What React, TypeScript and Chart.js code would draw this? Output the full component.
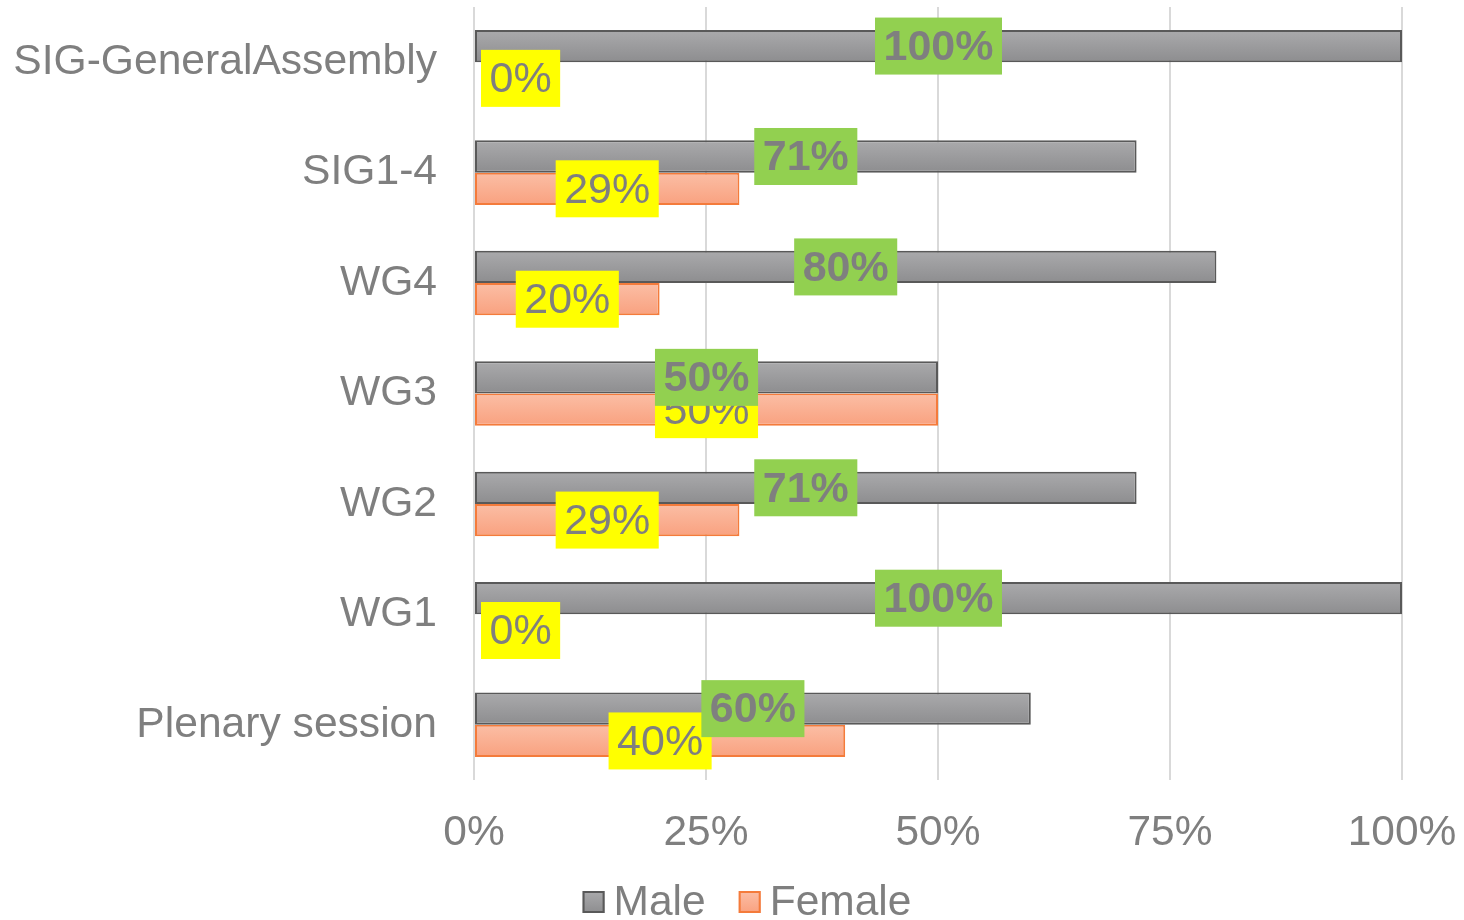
import React, { useEffect, useRef } from "react";
import { Chart, registerables } from "chart.js";

Chart.register(...registerables);

const categories = ["SIG-GeneralAssembly", "SIG1-4", "WG4", "WG3", "WG2", "WG1", "Plenary session"];
const maleValues = [100, 71.4, 80, 50, 71.4, 100, 60];
const femaleValues = [0, 28.6, 20, 50, 28.6, 0, 40];
const xTicks = [0, 25, 50, 75, 100];
const seriesNames = ["Male", "Female"];

const FONT = "'Liberation Sans', Arial, sans-serif";
const GRAY_TEXT = "#7f7f7f";

const gradientPlugin = {
  id: "barGradient",
  beforeDatasetsDraw(chart: any) {
    const ctx = chart.ctx;
    const stops = [
      ["#aaaaac", "#8d8d8f"],
      ["#fbbea5", "#f9a17f"],
    ];
    chart.data.datasets.forEach((ds: any, di: number) => {
      const meta = chart.getDatasetMeta(di);
      meta.data.forEach((el: any) => {
        const { y, height } = el.getProps(["y", "height"], true);
        const top = y - height / 2;
        const g = ctx.createLinearGradient(0, top, 0, top + height);
        g.addColorStop(0, stops[di][0]);
        g.addColorStop(1, stops[di][1]);
        el.options = Object.assign({}, el.options, { backgroundColor: g });
      });
    });
  },
};

const labelPlugin = {
  id: "boxLabels",
  afterDatasetsDraw(chart: any) {
    const ctx = chart.ctx;
    const area = chart.chartArea;
    const order = [1, 0];
    order.forEach((di) => {
      const meta = chart.getDatasetMeta(di);
      const values = di === 0 ? maleValues : femaleValues;
      meta.data.forEach((el: any, i: number) => {
        const { x, y, base } = el.getProps(["x", "y", "base"], true);
        const text = Math.round(values[i]) + "%";
        ctx.save();
        ctx.font = (di === 0 ? "bold " : "") + "43px " + FONT;
        const tw = ctx.measureText(text).width;
        const bw = tw + 17;
        const bh = 57;
        const cx = (x + base) / 2;
        let left = cx - bw / 2;
        if (left < area.left + 7) left = area.left + 7;
        ctx.fillStyle = di === 0 ? "#92d050" : "#ffff00";
        ctx.fillRect(left, y - bh / 2, bw, bh);
        ctx.fillStyle = GRAY_TEXT;
        ctx.textAlign = "center";
        ctx.textBaseline = "middle";
        ctx.fillText(text, left + bw / 2, y + 2);
        ctx.restore();
      });
    });
  },
};

const legendPlugin = {
  id: "customLegend",
  afterDraw(chart: any) {
    const ctx = chart.ctx;
    ctx.save();
    ctx.font = "42.5px " + FONT;
    const box = 22;
    const gap = 9;
    const itemGap = 33;
    const widths = seriesNames.map((n) => box + gap + ctx.measureText(n).width);
    const total = widths.reduce((a, b) => a + b, 0) + itemGap * (seriesNames.length - 1);
    let xPos = chart.width / 2 + 15 - total / 2;
    const yc = 902;
    const fills = [
      ["#aaaaac", "#8d8d8f", "#595959"],
      ["#fbbea5", "#f9a17f", "#f47b3b"],
    ];
    seriesNames.forEach((n, i) => {
      const g = ctx.createLinearGradient(0, yc - box / 2, 0, yc + box / 2);
      g.addColorStop(0, fills[i][0]);
      g.addColorStop(1, fills[i][1]);
      ctx.fillStyle = g;
      ctx.fillRect(xPos, yc - box / 2, box, box);
      ctx.strokeStyle = fills[i][2];
      ctx.lineWidth = 2;
      ctx.strokeRect(xPos + 1, yc - box / 2 + 1, box - 2, box - 2);
      ctx.fillStyle = GRAY_TEXT;
      ctx.textAlign = "left";
      ctx.textBaseline = "middle";
      ctx.fillText(n, xPos + box + gap, yc + 1);
      xPos += widths[i] + itemGap;
    });
    ctx.restore();
  },
};

export default function App() {
  const ref = useRef<HTMLCanvasElement | null>(null);
  useEffect(() => {
    if (!ref.current) return;
    const chart = new Chart(ref.current, {
      type: "bar",
      data: {
        labels: categories,
        datasets: [
          {
            label: seriesNames[0],
            data: maleValues,
            backgroundColor: "#9b9b9d",
            borderColor: "#595959",
            borderWidth: 2,
            borderSkipped: false,
            categoryPercentage: 0.585,
            barPercentage: 1,
          },
          {
            label: seriesNames[1],
            data: femaleValues,
            backgroundColor: "#faae90",
            borderColor: "#f47b3b",
            borderWidth: 2,
            borderSkipped: false,
            categoryPercentage: 0.585,
            barPercentage: 1,
          },
        ],
      },
      options: {
        indexAxis: "y",
        responsive: false,
        animation: false,
        layout: { padding: { top: 7, right: 62, bottom: 63, left: 0 } },
        plugins: {
          legend: { display: false },
          tooltip: { enabled: false },
        },
        scales: {
          x: {
            min: 0,
            max: 100,
            afterBuildTicks: (scale: any) => {
              scale.ticks = xTicks.map((v) => ({ value: v }));
            },
            afterFit: (scale: any) => {
              scale.paddingLeft = 0;
              scale.paddingRight = 0;
              scale.height = 77;
            },
            ticks: {
              callback: (v: any) => v + "%",
              font: { family: FONT, size: 42.5 },
              color: GRAY_TEXT,
              padding: 28,
            },
            grid: { color: "#d9d9d9", lineWidth: 2, drawTicks: false },
            border: { display: false },
          },
          y: {
            afterFit: (scale: any) => {
              scale.width = 474;
              scale.paddingTop = 0;
              scale.paddingBottom = 0;
            },
            ticks: {
              font: { family: FONT, size: 42.6 },
              color: GRAY_TEXT,
              padding: 37,
            },
            grid: { display: false, drawTicks: false },
            border: { display: false },
          },
        },
      },
      plugins: [gradientPlugin, labelPlugin, legendPlugin],
    });
    return () => chart.destroy();
  }, []);
  return (
    <div style={{ position: "fixed", left: 0, top: 0, width: 1464, height: 920, background: "#fff" }}>
      <canvas ref={ref} width={1464} height={920} />
    </div>
  );
}
